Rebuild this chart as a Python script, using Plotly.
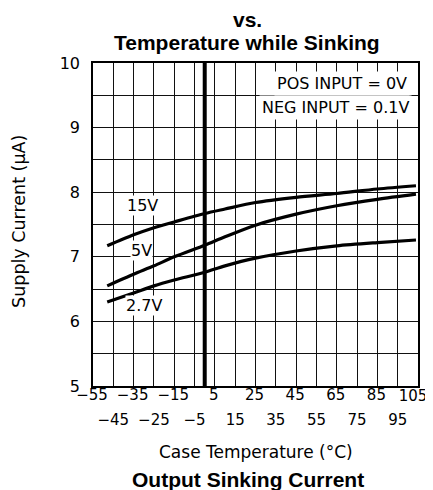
import plotly.graph_objects as go

# ---- data ----
temps = [-48, -35, -25, -15, 0, 10, 25, 45, 65, 85, 104]
i_15v = [7.17, 7.34, 7.45, 7.54, 7.67, 7.74, 7.84, 7.92, 7.98, 8.05, 8.10]
i_5v = [6.55, 6.73, 6.86, 7.00, 7.18, 7.31, 7.49, 7.66, 7.79, 7.89, 7.97]
i_27v = [6.30, 6.44, 6.55, 6.64, 6.76, 6.86, 6.98, 7.09, 7.17, 7.22, 7.26]
series = [("15V", i_15v), ("5V", i_5v), ("2.7V", i_27v)]
label_pos = {"15V": (-30.4, 7.79), "5V": (-31.2, 7.10), "2.7V": (-29.9, 6.24)}

x_ticks = list(range(-55, 106, 10))
x_row1 = x_ticks[0::2][:-1]   # first row, except the last (edge) label
x_edge = x_ticks[-1:]         # the 105 label at the right edge
x_row2 = x_ticks[1::2]
def fmt(v):
    return "\u2212" + str(abs(v)) if v < 0 else str(v)
y_ticks = [5 + 0.5 * k for k in range(11)]
y_ticktext = [str(int(v)) if v == int(v) else "" for v in y_ticks]
ref_temp = 0

sans = "DejaVu Sans"
bold = "Liberation Sans"
xtickfont = dict(family=sans, size=15, color="black")
ytickfont = dict(family=sans, size=16, color="black")

fig = go.Figure()
for name, vals in series:
    fig.add_trace(go.Scatter(x=temps, y=vals, mode="lines", name=name,
                             line=dict(color="black", width=3.2, shape="spline", smoothing=0.8),
                             showlegend=False, hoverinfo="skip"))
    lx, ly = label_pos[name]
    fig.add_annotation(x=lx, y=ly, text=name, showarrow=False, bgcolor="white",
                       font=dict(family=sans, size=16, color="black"), borderpad=0)
# invisible traces so the extra tick-label axes are drawn
fig.add_trace(go.Scatter(x=x_row2, y=[None] * len(x_row2), xaxis="x2", mode="lines",
                         showlegend=False, hoverinfo="skip"))
fig.add_trace(go.Scatter(x=x_edge, y=[None] * len(x_edge), xaxis="x3", mode="lines",
                         showlegend=False, hoverinfo="skip"))

fig.add_vline(x=ref_temp, line=dict(color="black", width=4), layer="above")

fig.add_annotation(x=1, y=1, xref="paper", yref="paper", xanchor="right", yanchor="middle",
                   xshift=-8, yshift=-20, text="POS INPUT = 0V", showarrow=False,
                   bgcolor="white", borderpad=2, font=dict(family=sans, size=16, color="black"))
fig.add_annotation(x=1, y=1, xref="paper", yref="paper", xanchor="right", yanchor="middle",
                   xshift=-6, yshift=-44, text="NEG INPUT = 0.1V", showarrow=False,
                   bgcolor="white", borderpad=2, font=dict(family=sans, size=16, color="black"))

# titles
title_lines = ["Supply Current", "vs.", "Temperature while Sinking"]
title_shift = [70, 44, 21]
for line, ys in zip(title_lines, title_shift):
    fig.add_annotation(x=0.474, y=1, xref="paper", yref="paper", yanchor="middle",
                       yshift=ys, text="<b>" + line + "</b>", showarrow=False,
                       font=dict(family=bold, size=21, color="black"))
fig.add_annotation(x=0.5, y=0, xref="paper", yref="paper", yanchor="middle", yshift=-66,
                   text="Case Temperature (\u00b0C)", showarrow=False,
                   font=dict(family=sans, size=17, color="black"))
fig.add_annotation(x=0.477, y=0, xref="paper", yref="paper", yanchor="middle", yshift=-93,
                   text="<b>Output Sinking Current</b>", showarrow=False,
                   font=dict(family=bold, size=21, color="black"))
fig.add_annotation(x=0, y=0.508, xref="paper", yref="paper", xanchor="center", yanchor="middle",
                   xshift=-74, text="Supply Current (\u03bcA)", textangle=-90, showarrow=False,
                   font=dict(family=sans, size=17.5, color="black"))

label_axis = dict(range=[-55, 105], overlaying="x", side="bottom", anchor="y",
                  tickfont=xtickfont, ticklabeloverflow="allow", automargin=False,
                  showgrid=False, showline=False, ticks="", zeroline=False, tickangle=0)

fig.update_layout(
    width=425, height=482,
    margin=dict(l=85, r=15, t=55, b=104, autoexpand=False),
    paper_bgcolor="white", plot_bgcolor="white",
    font=dict(family=sans, size=16, color="black"),
    xaxis=dict(range=[-55, 105], tickvals=x_ticks,
               ticktext=[fmt(v) if v in x_row1 else "" for v in x_ticks],
               tickfont=xtickfont, ticklabeloverflow="allow", automargin=False,
               showgrid=True, gridcolor="#111", gridwidth=1.4,
               showline=True, linecolor="black", linewidth=1.6, mirror=True,
               ticks="", ticklabelstandoff=-6, ticklabelshift=-1,
               zeroline=False, tickangle=0),
    xaxis2=dict(label_axis, tickvals=x_row2, ticktext=[fmt(v) for v in x_row2],
                ticklabelstandoff=23),
    xaxis3=dict(label_axis, tickvals=x_edge, ticktext=[fmt(v) for v in x_edge],
                ticklabelstandoff=-1, ticklabelshift=-5),
    yaxis=dict(range=[5, 10], tickvals=y_ticks, ticktext=y_ticktext,
               tickfont=ytickfont, automargin=False,
               showgrid=True, gridcolor="#111", gridwidth=1.4,
               showline=True, linecolor="black", linewidth=1.6, mirror=True,
               ticks="", ticklabelstandoff=8, zeroline=False),
)

fig.write_html("out.html")
